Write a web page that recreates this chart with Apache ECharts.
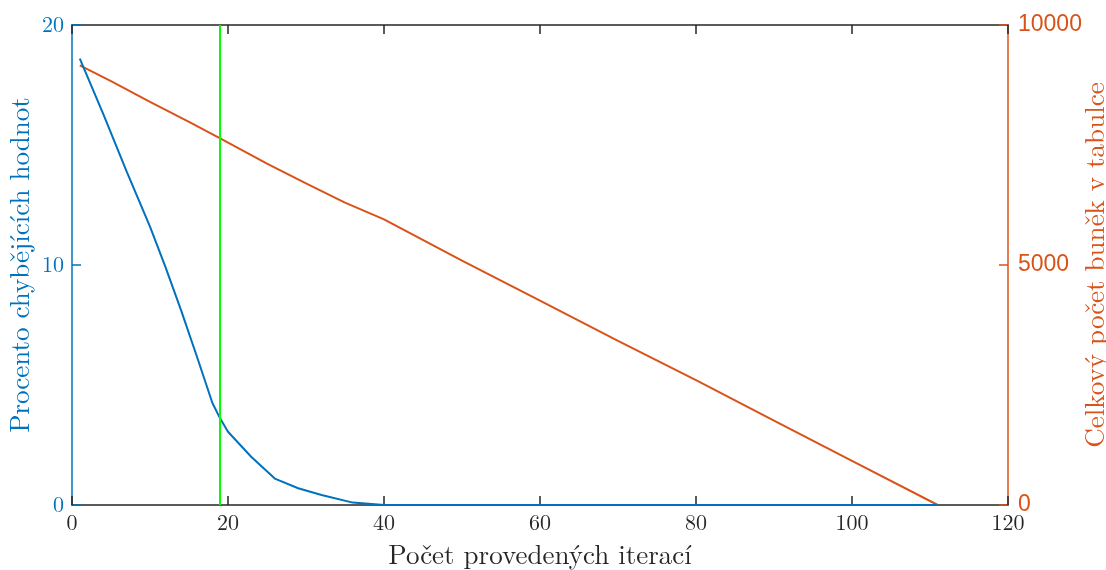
<!DOCTYPE html>
<html><head><meta charset="utf-8">
<script src="https://cdn.jsdelivr.net/npm/echarts@6/dist/echarts.min.js"></script>
<style>html,body{margin:0;padding:0;background:#fff}#c{width:1106px;height:570px}</style>
</head><body><div id="c"></div>
<script>
// Blue series: percent of missing values vs iteration
const missingX = [1, 4, 7, 10, 12, 14, 16, 18, 19, 20, 23, 26, 29, 32, 36, 40, 60, 80, 100, 111];
const missingY = [18.6, 16.3, 13.9, 11.6, 9.9, 8.1, 6.2, 4.25, 3.6, 3.05, 2.0, 1.1, 0.7, 0.42, 0.1, 0, 0, 0, 0, 0];
// Orange series: total number of cells in the table
const cellsX = [1, 5, 10, 15, 19, 25, 30, 35, 40, 50, 60, 70, 80, 90, 100, 111];
const cellsY = [9160, 8830, 8400, 7980, 7640, 7110, 6700, 6300, 5950, 5090, 4260, 3420, 2600, 1760, 920, 0];
const markerX = 19;
const xTicks = [0, 20, 40, 60, 80, 100, 120];
const leftTicks = [0, 10, 20];
const rightTicks = [0, 5000, 10000];

const BLUE = '#0072BD', ORANGE = '#D95319', DARK = '#262626';
const SERIF = '"Latin Modern Roman","CMU Serif","Liberation Serif",serif';
const SANS = '"Liberation Sans",Arial,sans-serif';

const chart = echarts.init(document.getElementById('c'));
chart.setOption({
  animation: false,
  grid: {left: 72, right: 98, top: 25, bottom: 65, containLabel: false, outerBoundsMode: 'none'},
  xAxis: [{
    type: 'value', min: xTicks[0], max: xTicks[xTicks.length-1], interval: 20, position: 'bottom',
    name: 'Počet provedených iterací', nameLocation: 'middle', nameGap: 37, nameMoveOverlap: false,
    nameTextStyle: {fontFamily: SERIF, fontSize: 27, color: DARK},
    axisLine: {onZero: false, lineStyle: {color: DARK, width: 1.5}},
    axisTick: {inside: true, length: 9, lineStyle: {color: DARK, width: 1.5}},
    axisLabel: {fontFamily: SERIF, fontSize: 22, color: DARK, margin: 7},
    splitLine: {show: false}
  }, {
    type: 'value', min: xTicks[0], max: xTicks[xTicks.length-1], interval: 20, position: 'top',
    axisLine: {onZero: false, lineStyle: {color: DARK, width: 1.5}},
    axisTick: {inside: true, length: 9, lineStyle: {color: DARK, width: 1.5}},
    axisLabel: {show: false}, splitLine: {show: false}
  }],
  yAxis: [{
    type: 'value', min: leftTicks[0], max: leftTicks[leftTicks.length-1], interval: 10, position: 'left',
    name: 'Procento chybějících hodnot', nameLocation: 'middle', nameGap: 38, nameMoveOverlap: false,
    nameTextStyle: {fontFamily: SERIF, fontSize: 27, color: BLUE},
    axisLine: {show: true, onZero: false, lineStyle: {color: BLUE, width: 1.5}},
    axisTick: {show: true, inside: true, length: 9, lineStyle: {color: BLUE, width: 1.5}},
    axisLabel: {fontFamily: SERIF, fontSize: 22, color: BLUE, margin: 8},
    splitLine: {show: false}
  }, {
    type: 'value', min: rightTicks[0], max: rightTicks[rightTicks.length-1], interval: 5000, position: 'right',
    name: 'Celkový počet buněk v tabulce', nameLocation: 'middle', nameGap: 74, nameMoveOverlap: false,
    nameTextStyle: {fontFamily: SERIF, fontSize: 27, color: ORANGE},
    axisLine: {show: true, onZero: false, lineStyle: {color: ORANGE, width: 1.5}},
    axisTick: {show: true, inside: true, length: 9, lineStyle: {color: ORANGE, width: 1.5}},
    axisLabel: {fontFamily: SANS, fontSize: 23, color: ORANGE, margin: 10, formatter: v => String(v)},
    splitLine: {show: false}
  }],
  series: [{
    type: 'line', xAxisIndex: 0, yAxisIndex: 1, showSymbol: false,
    data: cellsX.map((x, i) => [x, cellsY[i]]),
    lineStyle: {color: ORANGE, width: 2}, itemStyle: {color: ORANGE}
  }, {
    type: 'line', xAxisIndex: 0, yAxisIndex: 0, showSymbol: false,
    data: missingX.map((x, i) => [x, missingY[i]]),
    lineStyle: {color: BLUE, width: 2}, itemStyle: {color: BLUE},
    markLine: {silent: true, symbol: 'none', label: {show: false},
      lineStyle: {color: '#00FF00', width: 2, type: 'solid'},
      data: [{xAxis: markerX}]}
  }]
});
</script></body></html>
